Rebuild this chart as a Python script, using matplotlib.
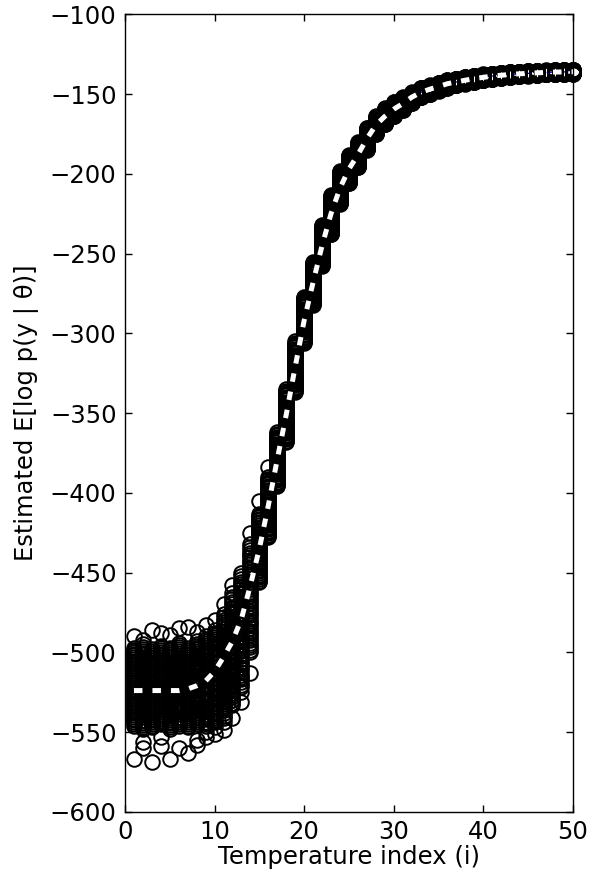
import numpy as np
import matplotlib
matplotlib.use("Agg")
import matplotlib.pyplot as plt

# temperature index 1..50
temp_index = list(range(1, 51))

# mean of the estimates at each index (white dashed curve)
mean_curve = [-524, -524, -524, -524, -524, -524, -523, -521, -518, -512,
              -503, -493, -479, -458, -435, -408, -379, -351, -321, -292,
              -268, -245, -225, -209, -197, -188, -178, -169.5, -164, -159.5,
              -156, -152, -149, -147, -145.3, -143.5, -142.4, -141.3, -140.3, -139.5,
              -138.7, -138.2, -137.7, -137.3, -137, -136.7, -136.4, -136.2, -136.1, -136]

# lower / upper edge of the dense cloud of estimates at each index
cloud_lo = [-546, -548, -547, -545, -548, -546, -547, -545, -546, -544,
            -541, -533, -522, -500, -456, -428, -396, -368, -337, -306,
            -282, -258, -238, -219, -206, -196, -185, -175, -169, -164,
            -160, -155.5, -152, -150, -147.8, -146, -144.6, -143.4, -142.3, -141.4,
            -140.5, -139.8, -139.2, -138.8, -138.4, -138, -137.7, -137.5, -137.3, -137.2]
cloud_hi = [-497, -495, -498, -496, -497, -494, -497, -493, -490, -486,
            -476, -463, -450, -432, -413, -390, -362, -335, -305, -277,
            -255, -232, -213, -198, -188, -180, -171, -164, -159, -155,
            -152, -149, -146, -144.5, -142.8, -141.3, -140.3, -139.3, -138.4, -137.7,
            -137.1, -136.6, -136.2, -135.9, -135.6, -135.4, -135.2, -135, -134.9, -134.8]

# relative position of the estimates inside each cloud
cloud_frac = [0.0, 0.02, 0.045, 0.07, 0.09, 0.11, 0.135, 0.16, 0.18, 0.2,
              0.225, 0.25, 0.27, 0.29, 0.315, 0.34, 0.36, 0.38, 0.405, 0.43,
              0.45, 0.47, 0.495, 0.52, 0.54, 0.56, 0.585, 0.61, 0.63, 0.65,
              0.675, 0.7, 0.72, 0.74, 0.765, 0.79, 0.81, 0.83, 0.855, 0.88,
              0.9, 0.92, 0.945, 0.97, 1.0]

# isolated estimates outside the dense clouds
outlier_x = [1, 3, 5, 7, 2, 8, 1, 4, 6, 9, 10, 11, 12, 13, 4, 9,
             2, 3, 5, 7, 8, 10, 11, 12,
             2, 4, 6, 8, 9, 10, 11, 12, 13, 14, 14, 15, 16]
outlier_y = [-567, -569, -567, -563, -556, -555, -490, -488, -485, -483,
             -547, -544, -530, -525, -553, -550,
             -492, -486, -489, -484, -487, -480, -470, -458,
             -560, -559, -560, -558, -553, -551, -549, -541, -531, -513, -425, -405, -384]

xs = []
ys = []
for i, lo, hi in zip(temp_index, cloud_lo, cloud_hi):
    for f in cloud_frac:
        xs.append(i)
        ys.append(lo + (hi - lo) * f)
xs += outlier_x
ys += outlier_y

fig = plt.figure(figsize=(5.98, 8.96), dpi=100)
ax = fig.add_axes([0.209, 0.094, 0.749, 0.890])

ax.plot(temp_index, mean_curve, '--', color='blue', lw=1.0, zorder=1)
ax.plot(xs, ys, 'o', mfc='none', mec='black', ms=10.5, mew=1.4,
        clip_on=False, zorder=2)
ax.plot(temp_index, mean_curve, color='white', lw=3.6,
        linestyle=(0, (1.7, 2.0)), zorder=3)

ax.set_xlim(0, 50)
ax.set_ylim(-600, -100)
ax.set_xticks(range(0, 51, 10))
ax.set_yticks(range(-600, -99, 50))
ax.tick_params(direction='in', top=True, right=True, length=5, width=1,
               labelsize=17.5, pad=6)
for s in ax.spines.values():
    s.set_linewidth(1.0)
ax.set_xlabel('Temperature index (i)', fontsize=17.5, labelpad=1)
ax.set_ylabel('Estimated E[log p(y | θ)]', fontsize=17.5, labelpad=8)

fig.savefig('out.png', dpi=100)
